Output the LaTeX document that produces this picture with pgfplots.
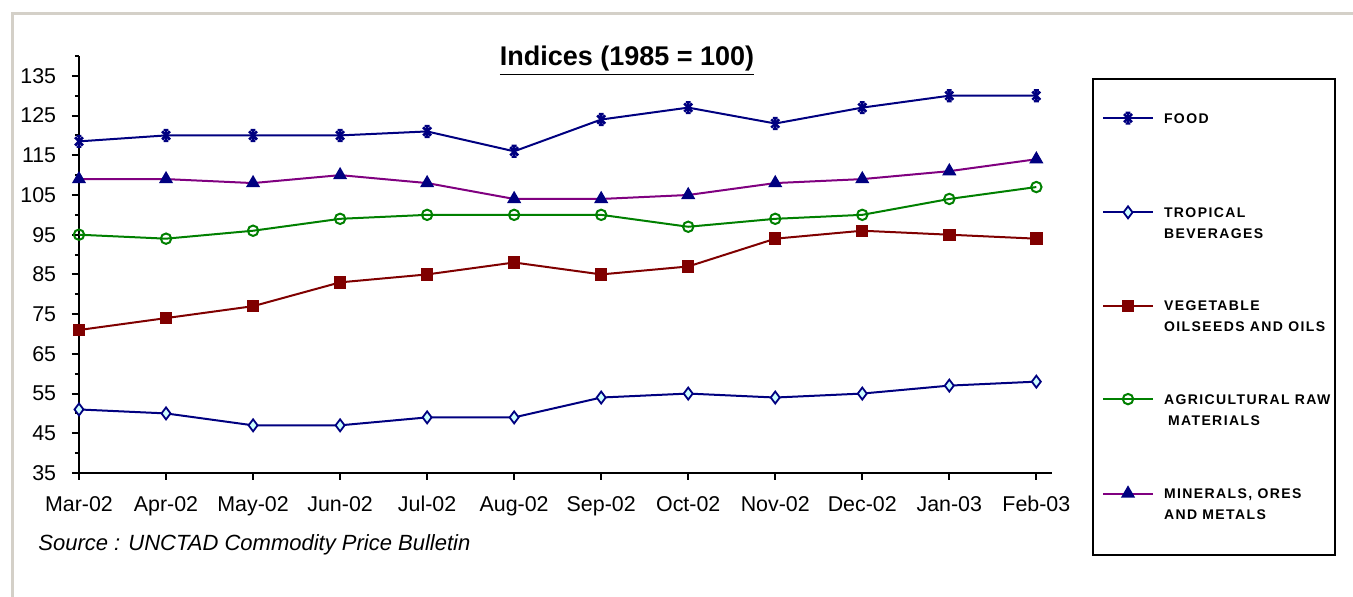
\documentclass[border=0pt]{standalone}
\usepackage{pgfplots}
\usepackage{pgfplotstable}
\pgfplotsset{compat=1.18}
\usepackage{fontspec}
\setmainfont{Liberation Sans}
\newfontfamily\legfont[LetterSpace=10]{Liberation Sans}
\definecolor{navyc}{RGB}{0,0,128}
\definecolor{maroonc}{RGB}{128,0,0}
\definecolor{greenc}{RGB}{0,128,0}
\definecolor{purplec}{RGB}{128,0,128}
\definecolor{cyanfill}{RGB}{204,255,255}
\definecolor{greenfill}{RGB}{204,255,204}
\definecolor{framegray}{RGB}{212,208,200}
\pgfplotsset{mylegimg/.style={legend image code/.code={\draw[mark repeat=2,mark phase=2,#1] plot coordinates {(0pt,0pt) (12.5pt,0pt) (25pt,0pt)};}}}
\pgfdeclareplotmark{xstar}{%
  \pgfpathmoveto{\pgfqpoint{0pt}{\pgfplotmarksize}}%
  \pgfpathlineto{\pgfqpoint{0pt}{-\pgfplotmarksize}}%
  \pgfpathmoveto{\pgfqpoint{.75\pgfplotmarksize}{.75\pgfplotmarksize}}%
  \pgfpathlineto{\pgfqpoint{-.75\pgfplotmarksize}{-.75\pgfplotmarksize}}%
  \pgfpathmoveto{\pgfqpoint{-.75\pgfplotmarksize}{.75\pgfplotmarksize}}%
  \pgfpathlineto{\pgfqpoint{.75\pgfplotmarksize}{-.75\pgfplotmarksize}}%
  \pgfpathmoveto{\pgfqpoint{-.45\pgfplotmarksize}{\pgfplotmarksize}}%
  \pgfpathlineto{\pgfqpoint{.45\pgfplotmarksize}{\pgfplotmarksize}}%
  \pgfpathmoveto{\pgfqpoint{-.45\pgfplotmarksize}{-\pgfplotmarksize}}%
  \pgfpathlineto{\pgfqpoint{.45\pgfplotmarksize}{-\pgfplotmarksize}}%
  \pgfusepathqstroke}

\pgfplotstableread{
x food trop veg agri min
0 118.5 51 71 95 109
1 120 50 74 94 109
2 120 47 77 96 108
3 120 47 83 99 110
4 121 49 85 100 108
5 116 49 88 100 104
6 124 54 85 100 104
7 127 55 87 97 105
8 123 54 94 99 108
9 127 55 96 100 109
10 130 57 95 104 111
11 130 58 94 107 114
}\datatab

\begin{document}
\begin{tikzpicture}
\path[use as bounding box] (0,0) rectangle (676.5pt,298.5pt);
\fill[white] (0,0) rectangle (676.5pt,298.5pt);
% outer frame
\draw[framegray, line width=1.5pt] (6pt,0pt) -- (6pt,291.5pt) -- (676.5pt,291.5pt);
% legend frame
\draw[black, line width=1pt] (546.5pt,259pt) rectangle (667.5pt,21pt);
\begin{axis}[
  at={(39.5pt,62pt)}, anchor=south west,
  scale only axis, width=486.5pt, height=208.5pt,
  xmin=0, xmax=11.18, ymin=35, ymax=140,
  axis lines*=left,
  axis line style={black, line width=1pt},
  clip=false,
  xtick={0,...,11},
  xticklabels={Mar-02,Apr-02,May-02,Jun-02,Jul-02,Aug-02,Sep-02,Oct-02,Nov-02,Dec-02,Jan-03,Feb-03},
  ytick={35,45,...,135},
  minor ytick={40,50,...,140},
  tick align=outside,
  major tick length=3.5pt,
  minor tick length=2pt,
  tick style={black, line width=1pt},
  /pgf/number format/assume math mode=true,
  ticklabel style={font=\fontsize{10.7}{12}\selectfont},
  xticklabel style={yshift=-4.5pt},
  yticklabel style={xshift=-4.4pt},
  legend style={draw=none, fill=none, inner sep=0pt, outer sep=0pt,
    at={(axis description cs:1.0514,0.864)}, anchor=north west,
    row sep=40.1pt, column sep=5pt,
    nodes={inner sep=0pt, anchor=base west},
    font=\legfont\bfseries\fontsize{7}{10.5}\selectfont},
  legend cell align=left,
  mylegimg,
  legend image post style={yshift=2.5pt},
]
\addplot[navyc, line width=1pt, mark=xstar, mark size=2.7pt, mark options={line width=1.2pt}] table[x=x,y=food] {\datatab};
\addlegendentry{\parbox[t]{110pt}{FOOD\\\mbox{}}}
\addplot[navyc, line width=1pt, mark=diamond*, mark size=3pt, mark options={fill=cyanfill, draw=navyc, line width=0.9pt}] table[x=x,y=trop] {\datatab};
\addlegendentry{\parbox[t]{110pt}{TROPICAL\\BEVERAGES}}
\addplot[maroonc, line width=1pt, mark=square*, mark size=2.6pt, mark options={fill=maroonc, draw=maroonc}] table[x=x,y=veg] {\datatab};
\addlegendentry{\parbox[t]{110pt}{VEGETABLE\\OILSEEDS AND OILS}}
\addplot[greenc, line width=1pt, mark=o, mark size=2.6pt, mark options={fill=greenfill, draw=greenc, line width=1pt}] table[x=x,y=agri] {\datatab};
\addlegendentry{\parbox[t]{110pt}{AGRICULTURAL RAW\\\hspace*{2pt}MATERIALS}}
\addplot[purplec, line width=1pt, mark=triangle*, mark size=3.1pt, mark options={fill=navyc, draw=navyc}] table[x=x,y=min] {\datatab};
\addlegendentry{\parbox[t]{110pt}{MINERALS, ORES\\AND METALS}}
\end{axis}
\node[anchor=base, font=\bfseries\fontsize{13.5}{16}\selectfont] at (313.5pt,265.5pt) {\underline{Indices (1985 = 100)}};
\node[anchor=base west, inner sep=0pt, font=\itshape\fontsize{11}{13}\selectfont] at (19pt,23pt) {Source : UNCTAD Commodity Price Bulletin};
\end{tikzpicture}
\end{document}
